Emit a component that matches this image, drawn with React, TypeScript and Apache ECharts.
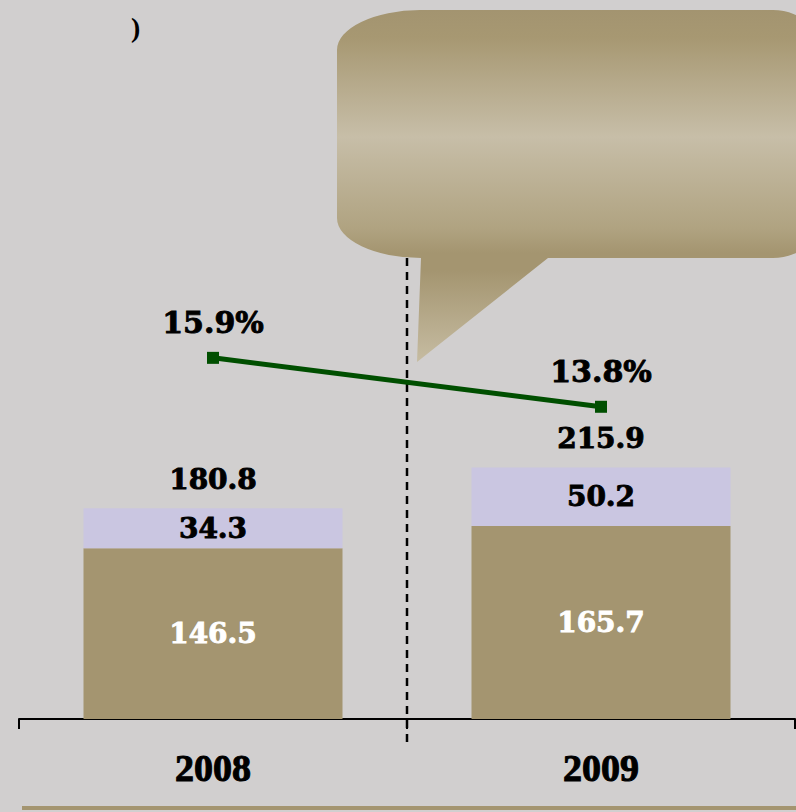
import React, { useEffect, useRef } from "react";
import * as echarts from "echarts";

const years = ["2008", "2009"];
const baseValues = [146.5, 165.7];
const topValues = [34.3, 50.2];
const totals = [180.8, 215.9];
const ratios = [15.9, 13.8];

const TAN = "#a49570";
const LAV = "#cac6e1";
const GREEN = "#004f00";
const BG = "#d1cfcf";
const VAL_FONT = "DejaVu Serif";

echarts.graphic.registerShape(
  "speechBubble",
  echarts.graphic.extendPath(
    "M 420 10 H 773 A 55 55 0 0 1 828 65 V 203 A 55 55 0 0 1 773 258 H 548 L 417 362 L 421 258 A 84 40 0 0 1 337 218 V 50 A 84 40 0 0 1 420 10 Z",
    {}
  )
);

export default function App() {
  const ref = useRef<HTMLDivElement>(null);
  useEffect(() => {
    document.body.style.margin = "0";
    const chart = echarts.init(ref.current!, null, { renderer: "svg" });
    const gridLeft = 19;
    const gridRight = 1;
    const width = 796;
    const midX = gridLeft + (width - gridLeft - gridRight) / 2;
    const valLabel = (color: string, size: number) => ({
      color,
      fontFamily: VAL_FONT,
      fontWeight: "bold",
      fontSize: size,
      textBorderColor: color,
      textBorderWidth: 0.9,
      opacity: 1,
    });
    chart.setOption({
      animation: false,
      backgroundColor: BG,
      grid: { left: gridLeft, right: gridRight, top: 20, bottom: 93 },
      xAxis: {
        type: "category",
        data: years,
        axisLine: { lineStyle: { color: "#000", width: 2 } },
        axisTick: { show: true, length: 10, lineStyle: { color: "#000", width: 2 } },
        axisLabel: {
          margin: 30,
          color: "#000",
          fontFamily: "Liberation Serif",
          fontWeight: "bold",
          fontSize: 38,
          textBorderColor: "#000",
          textBorderWidth: 1,
        },
      },
      yAxis: [
        { type: "value", min: 0, max: 600, show: false, splitLine: { show: false } },
        { type: "value", min: 0.4, max: 30.4, show: false, splitLine: { show: false } },
      ],
      series: [
        {
          type: "bar",
          stack: "s",
          data: baseValues,
          barWidth: 259,
          itemStyle: { color: TAN },
          label: { show: true, position: "inside", ...valLabel("#fff", 28) },
          z: 2,
        },
        {
          type: "bar",
          stack: "s",
          data: topValues,
          barWidth: 259,
          itemStyle: { color: LAV },
          label: { show: true, position: "inside", ...valLabel("#000", 28) },
          z: 2,
        },
        {
          type: "scatter",
          data: totals,
          symbolSize: 1,
          itemStyle: { color: "rgba(0,0,0,0)", opacity: 1 },
          label: {
            show: true,
            position: "top",
            distance: 14,
            formatter: (p: any) => p.value.toFixed(1),
            ...valLabel("#000", 28),
          },
          z: 3,
        },
        {
          type: "line",
          yAxisIndex: 1,
          data: ratios,
          symbol: "rect",
          symbolSize: 12,
          lineStyle: { color: GREEN, width: 5 },
          itemStyle: { color: GREEN },
          label: {
            show: true,
            position: "top",
            distance: 14,
            formatter: (p: any) => p.value.toFixed(1) + "%",
            ...valLabel("#000", 30),
          },
          z: 5,
        },
      ],
      graphic: [
        {
          type: "line",
          z: 1,
          shape: { x1: midX, y1: 258, x2: midX, y2: 745 },
          style: { stroke: "#000", lineWidth: 2.5, lineDash: [8, 6] },
        },
        {
          type: "speechBubble",
          x: 0,
          y: 0,
          z: 10,
          style: {
            fill: new echarts.graphic.LinearGradient(0, 0, 0, 1, [
              { offset: 0, color: "#a39470" },
              { offset: 0.08, color: "#a79872" },
              { offset: 0.36, color: "#c7bea8" },
              { offset: 0.62, color: "#b0a381" },
              { offset: 0.69, color: "#a49570" },
              { offset: 0.74, color: "#a49570" },
              { offset: 1, color: "#c6bca2" },
            ]),
            stroke: null,
          },
        },
        {
          type: "text",
          left: 131,
          top: 13,
          style: {
            text: ")",
            fill: "#000",
            font: "bold 28px 'Liberation Serif'",
          },
        },
        {
          type: "line",
          shape: { x1: 22, y1: 808, x2: 796, y2: 808 },
          style: { stroke: TAN, lineWidth: 4 },
        },
      ],
    });
    return () => chart.dispose();
  }, []);
  return <div ref={ref} style={{ width: 796, height: 812 }} />;
}
